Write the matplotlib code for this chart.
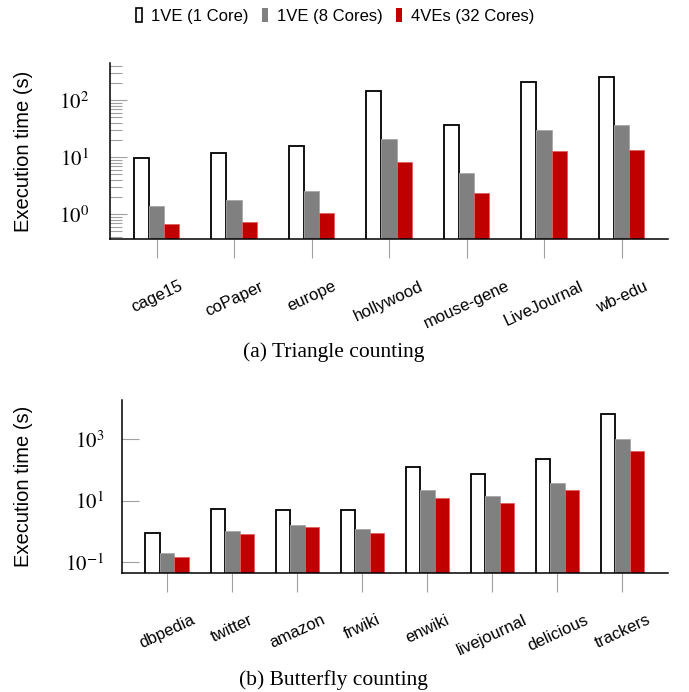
import matplotlib
matplotlib.use("Agg")
import matplotlib.pyplot as plt
from matplotlib.patches import Patch
from matplotlib.ticker import LogLocator, NullLocator, NullFormatter, FuncFormatter
import numpy as np

plt.rcParams['font.family'] = ['Liberation Sans', 'DejaVu Sans']
plt.rcParams['mathtext.fontset'] = 'stix'

series = ["1VE (1 Core)", "1VE (8 Cores)", "4VEs (32 Cores)"]

# (a) triangle counting, seconds
tc_graphs = ["cage15", "coPaper", "europe", "hollywood", "mouse-gene", "LiveJournal", "wb-edu"]
tc_1ve_1 = [9.5, 11.9, 15.8, 146, 36.9, 207, 252]
tc_1ve_8 = [1.38, 1.76, 2.5, 20.4, 5.2, 29.8, 36]
tc_4ve_32 = [0.68, 0.73, 1.03, 8.1, 2.3, 12.6, 13.4]

# (b) butterfly counting, seconds
bc_graphs = ["dbpedia", "twitter", "amazon", "frwiki", "enwiki", "livejournal", "delicious", "trackers"]
bc_1ve_1 = [0.87, 5.4, 4.9, 5.0, 128, 76, 233, 6670]
bc_1ve_8 = [0.19, 1.0, 1.53, 1.17, 21.8, 13.9, 38.5, 1025]
bc_4ve_32 = [0.14, 0.78, 1.32, 0.84, 12.5, 8.2, 22.3, 417]

face = ["white", "#808080", "#c00000"]
edge = ["black", "#a8a8a8", "#e06060"]
tick_gray = "#a0a0a0"

fig = plt.figure(figsize=(6.89, 6.92), dpi=100)
ax1 = fig.add_axes([110 / 689, 1 - 239 / 692, 558 / 689, 176 / 692])
ax2 = fig.add_axes([121.7 / 689, 1 - 572.7 / 692, 546.3 / 689, 172.7 / 692])

pow_fmt = FuncFormatter(lambda v, pos: r"$10^{%d}$" % round(np.log10(v)))


def draw(ax, graphs, data, width, xlim, ylim):
    x = np.arange(len(graphs))
    for k, vals in enumerate(data):
        lw = 1.3 if k == 0 else 0.6
        ax.bar(x + (k - 1) * width, vals, width, bottom=1e-9,
               color=face[k], edgecolor=edge[k], linewidth=lw, zorder=2)
    ax.set_yscale("log")
    ax.set_xlim(*xlim)
    ax.set_ylim(*ylim)
    ax.set_xticks(x)
    ax.set_xticklabels(graphs, rotation=25, fontsize=12)
    ax.tick_params(axis="x", direction="out", length=13.5, width=0.8,
                   color=tick_gray, pad=15)
    for s in ["top", "right"]:
        ax.spines[s].set_visible(False)
    for s in ["left", "bottom"]:
        ax.spines[s].set_linewidth(1.1)
        ax.spines[s].set_zorder(3)
    ax.set_ylabel("Execution time (s)", fontsize=14.5)


draw(ax1, tc_graphs, [tc_1ve_1, tc_1ve_8, tc_4ve_32], 0.194, (-0.6, 6.6), (0.364, 446))
ax1.yaxis.set_major_locator(LogLocator(base=10, numticks=10))
ax1.yaxis.set_major_formatter(pow_fmt)
ax1.yaxis.set_minor_locator(LogLocator(base=10, subs=np.arange(2, 10), numticks=10))
ax1.yaxis.set_minor_formatter(NullFormatter())
ax1.tick_params(axis="y", which="major", direction="in", length=12, width=0.8,
                color=tick_gray, labelsize=15, pad=15)
ax1.tick_params(axis="y", which="minor", direction="in", length=8.5, width=0.8,
                color=tick_gray)
ax1.yaxis.set_label_coords(-0.138, 0.5)

draw(ax2, bc_graphs, [bc_1ve_1, bc_1ve_8, bc_4ve_32], 0.223, (-0.7, 7.7), (0.0438, 19230))
ax2.set_yticks([1e-1, 1e1, 1e3])
ax2.yaxis.set_major_formatter(pow_fmt)
ax2.yaxis.set_minor_locator(NullLocator())
ax2.tick_params(axis="y", which="major", direction="in", length=12, width=0.8,
                color=tick_gray, labelsize=15, pad=12.5)
ax2.yaxis.set_label_coords(-0.162, 0.5)

handles = [Patch(facecolor=face[k], edgecolor="black" if k == 0 else face[k],
                 linewidth=1.2 if k == 0 else 0) for k in range(3)]
fig.legend(handles, series, loc="center", bbox_to_anchor=(335 / 689, 1 - 16 / 692),
           ncol=3, frameon=False, fontsize=12, handlelength=0.35, handleheight=0.85,
           handletextpad=0.55, columnspacing=0.8, borderaxespad=0)

fig.text(334 / 689, 1 - 352 / 692, "(a) Triangle counting", ha="center", va="center",
         family="Liberation Serif", fontsize=15.5)
fig.text(333.5 / 689, 1 - 680 / 692, "(b) Butterfly counting", ha="center", va="center",
         family="Liberation Serif", fontsize=15.5)

fig.savefig("out.png", dpi=100)
